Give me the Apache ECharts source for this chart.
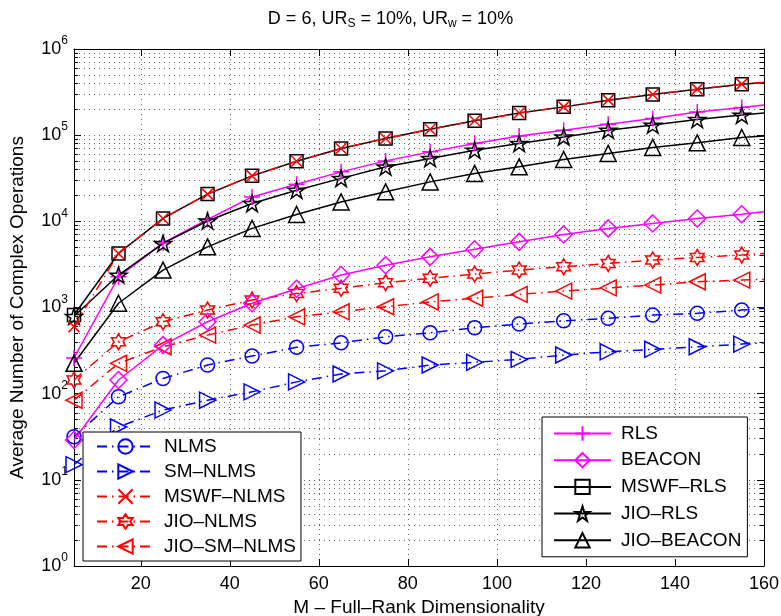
<!DOCTYPE html>
<html>
<head>
<meta charset="utf-8">
<script src="https://cdn.jsdelivr.net/npm/echarts@6/dist/echarts.min.js"></script>
<style>
  html, body { margin: 0; padding: 0; background: #fff; }
  #chart { width: 781px; height: 616px; }
</style>
</head>
<body>
<div id="chart"></div>
<script>
// M values; the last one (160) only carries the line to the right edge
const M = [5, 15, 25, 35, 45, 55, 65, 75, 85, 95, 105, 115, 125, 135, 145, 155, 160];

const nlms       = [31.6, 92, 150, 215, 273, 345, 389, 457, 508, 582, 642, 701, 748, 816, 855, 933, 977];
const smNlms     = [15, 41, 64.5, 84, 105, 137, 169, 184, 215, 231, 250, 281, 306, 327, 350, 376, 389];
const mswfNlms   = [600, 4240, 10800, 20700, 33700, 49900, 70100, 91600, 117000, 147000, 181000, 213000, 255000, 297000, 342000, 391000, 409000];
const jioNlms    = [144, 400, 683, 933, 1220, 1450, 1670, 1940, 2180, 2440, 2720, 2970, 3250, 3550, 3810, 4060, 4240];
const jioSmNlms  = [84, 225, 350, 478, 625, 780, 891, 1020, 1160, 1280, 1420, 1550, 1690, 1820, 1990, 2080, 2120];
const rls        = [260, 2270, 5600, 10500, 19200, 27000, 37500, 50300, 64000, 80100, 98000, 114000, 134000, 156000, 186000, 210000, 224000];
const beacon     = [29, 144, 366, 683, 1120, 1650, 2380, 3100, 3870, 4750, 5780, 7050, 8280, 9460, 10800, 12100, 12900];
const mswfRls    = [817, 4240, 10800, 20700, 33700, 49900, 70100, 91600, 117000, 147000, 181000, 213000, 255000, 297000, 342000, 391000, 409000];
const jioRls     = [790, 2380, 5540, 10100, 16100, 23000, 31500, 42900, 53700, 67000, 80100, 95500, 114000, 131000, 152000, 171000, 181000];
const jioBeacon  = [225, 1120, 2720, 5060, 8280, 12000, 16800, 22000, 28700, 36000, 42900, 52200, 61400, 72000, 81400, 94000, 97500];

const FONT = 'Liberation Sans';

// marker shapes (matlab style)
const PLUS  = 'path://M0,-1L0,1M-1,0L1,0';
const CROSS = 'path://M-1,-1L1,1M-1,1L1,-1';
const HEX   = 'path://M0,-1L0.289,-0.5L0.866,-0.5L0.577,0L0.866,0.5L0.289,0.5L0,1L-0.289,0.5L-0.866,0.5L-0.577,0L-0.866,-0.5L-0.289,-0.5Z';
const PENT  = 'path://M0,-1L0.2245,-0.309L0.951,-0.309L0.363,0.118L0.588,0.809L0,0.382L-0.588,0.809L-0.363,0.118L-0.951,-0.309L-0.2245,-0.309Z';
const TRI_R = 'path://M1,0L-1,-1L-1,1Z';
const TRI_L = 'path://M-1,0L1,-1L1,1Z';

const DASHDOT = [10, 5, 1.5, 5];

function pts(vals) {
    return vals.map((v, i) => i === vals.length - 1
        ? { value: [M[i], v], symbol: 'none' }
        : [M[i], v]);
}

function line(name, vals, color, symbol, size, dash, z) {
    return {
        name: name,
        type: 'line',
        data: pts(vals),
        symbol: symbol,
        symbolSize: size,
        symbolKeepAspect: true,
        z: z || 2,
        lineStyle: { color: color, width: 1.5, type: dash ? DASHDOT : 'solid' },
        itemStyle: { color: 'rgba(255,255,255,0)', borderColor: color, borderWidth: 1.5 },
        emphasis: { disabled: true }
    };
}

const chart = echarts.init(document.getElementById('chart'));

const dotted = { color: '#666', width: 1, type: [1, 4] };

const expLabel = {
    formatter: v => '{b|10}{e|' + Math.round(Math.log10(v)) + '}',
    margin: 6,
    rich: {
        b: { fontFamily: FONT, fontSize: 18, color: '#000' },
        e: { fontFamily: FONT, fontSize: 12, color: '#000', padding: [0, 0, 16, 0] }
    }
};

const legendBase = {
    orient: 'vertical',
    itemWidth: 57,
    itemHeight: 18,
    backgroundColor: '#fff',
    borderColor: '#000',
    borderWidth: 1,
    borderRadius: 0,
    textStyle: { fontFamily: FONT, fontSize: 19, color: '#000', padding: [0, 0, 0, 5], lineHeight: 18 }
};

const option = {
    animation: false,
    backgroundColor: '#fff',
    textStyle: { fontFamily: FONT },
    title: {
        text: 'D = 6, UR{s|S} = 10%, UR{s|w} = 10%',
        left: 'center',
        top: 3,
        padding: [5, 5, 5, 62],
        textStyle: {
            fontFamily: FONT, fontSize: 18, fontWeight: 'normal', color: '#000',
            rich: {
                s: { fontFamily: FONT, fontSize: 12, color: '#000', padding: [10, 0, 0, 0] }
            }
        }
    },
    grid: { left: 74, right: 17, top: 49, bottom: 50, containLabel: false, outerBoundsMode: 'none' },
    legend: [
        Object.assign({}, legendBase, {
            data: ['NLMS', 'SM–NLMS', 'MSWF–NLMS', 'JIO–NLMS', 'JIO–SM–NLMS'],
            left: 83, top: 432, itemGap: 6, padding: [5, 5, 5, 13]
        }),
        Object.assign({}, legendBase, {
            data: ['RLS', 'BEACON', 'MSWF–RLS', 'JIO–RLS', 'JIO–BEACON'],
            left: 542, top: 417, itemGap: 7.7, padding: [7, 6, 7, 11]
        })
    ],
    xAxis: [
        {
            type: 'value', min: 5, max: 160, splitNumber: 8,
            name: 'M – Full–Rank Dimensionality', nameLocation: 'middle', nameGap: 31,
            nameTextStyle: { fontFamily: FONT, fontSize: 19, color: '#000' },
            axisLine: { lineStyle: { color: '#000', width: 1 } },
            axisTick: { inside: true, length: 7, lineStyle: { color: '#000' } },
            axisLabel: { fontFamily: FONT, fontSize: 18, color: '#000', margin: 9, showMinLabel: false },
            splitLine: { show: true, lineStyle: dotted }
        },
        {
            type: 'value', min: 5, max: 160, splitNumber: 8, position: 'top',
            axisLine: { lineStyle: { color: '#000', width: 1 } },
            axisTick: { inside: true, length: 7, lineStyle: { color: '#000' } },
            axisLabel: { show: false },
            splitLine: { show: false }
        }
    ],
    yAxis: [
        {
            type: 'log', logBase: 10, min: 1, max: 1e6, splitNumber: 6,
            name: 'Average Number of Complex Operations', nameLocation: 'middle', nameGap: 47,
            nameTextStyle: { fontFamily: FONT, fontSize: 19, color: '#000' },
            axisLine: { show: true, lineStyle: { color: '#000', width: 1 } },
            axisTick: { show: true, inside: true, length: 7, lineStyle: { color: '#000' } },
            minorTick: { show: true, splitNumber: 9, length: 4, lineStyle: { color: '#000' } },
            axisLabel: expLabel,
            splitLine: { show: true, lineStyle: dotted },
            minorSplitLine: { show: true, lineStyle: dotted }
        },
        {
            type: 'log', logBase: 10, min: 1, max: 1e6, splitNumber: 6, position: 'right',
            axisLine: { show: true, lineStyle: { color: '#000', width: 1 } },
            axisTick: { show: true, inside: true, length: 7, lineStyle: { color: '#000' } },
            minorTick: { show: true, splitNumber: 9, length: 4, lineStyle: { color: '#000' } },
            axisLabel: { show: false },
            splitLine: { show: false }
        }
    ],
    series: [
        line('NLMS', nlms, '#0000ff', 'circle', 14, true),
        line('SM–NLMS', smNlms, '#0000ff', TRI_R, 16, true),
        line('JIO–NLMS', jioNlms, '#ff0000', HEX, 16, true),
        line('JIO–SM–NLMS', jioSmNlms, '#ff0000', TRI_L, 16, true),
        line('RLS', rls, '#ff00ff', PLUS, 16, false),
        line('BEACON', beacon, '#ff00ff', 'diamond', 17, false),
        line('MSWF–RLS', mswfRls, '#000000', 'rect', 13, false),
        line('JIO–RLS', jioRls, '#000000', PENT, 17, false),
        line('JIO–BEACON', jioBeacon, '#000000', 'triangle', 16, false),
        line('MSWF–NLMS', mswfNlms, '#ff0000', CROSS, 11, true, 3)
    ]
};

chart.setOption(option);
</script>
</body>
</html>
